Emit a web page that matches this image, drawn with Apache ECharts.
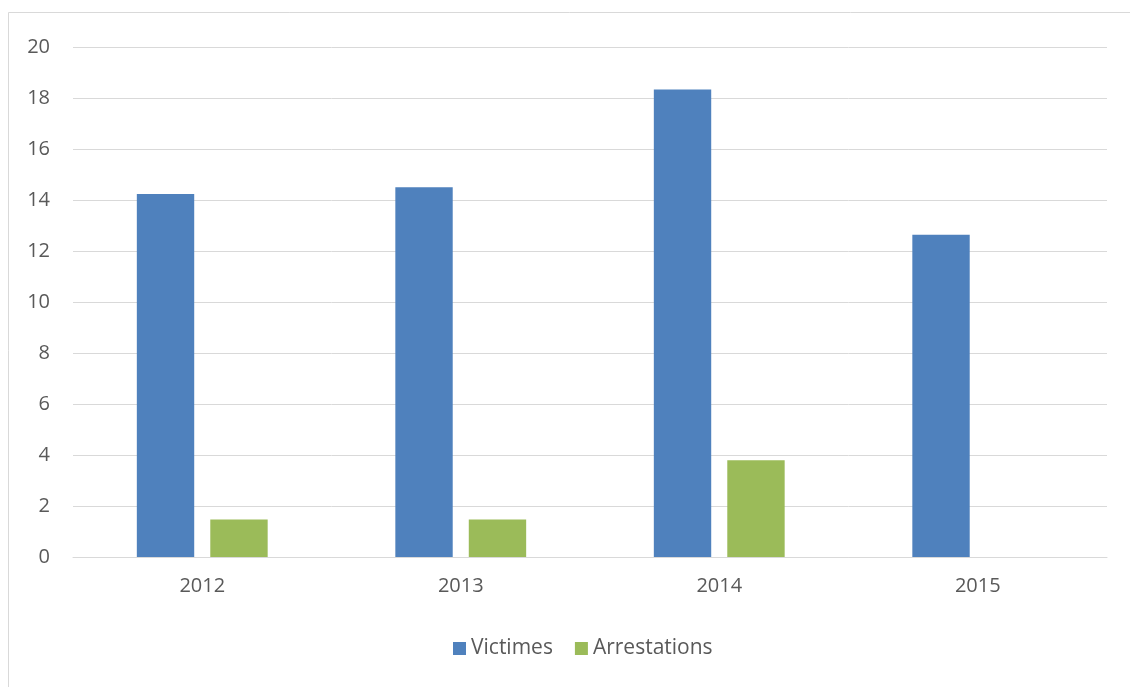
<!DOCTYPE html>
<html>
<head>
<meta charset="utf-8">
<script src="https://cdn.jsdelivr.net/npm/echarts@6/dist/echarts.min.js"></script>
<style>
  html, body { margin: 0; padding: 0; background: #fff; }
  #chart { width: 1130px; height: 687px; }
</style>
</head>
<body>
<div id="chart"></div>
<script>
const categories = ['2012', '2013', '2014', '2015'];
const victimes = [14.24, 14.5, 18.33, 12.64];
const arrestations = [1.47, 1.47, 3.79, 0];
const seriesNames = ['Victimes', 'Arrestations'];
const yTicks = { min: 0, max: 20, interval: 2 };

const FONT = '"Open Sans", "Liberation Sans", sans-serif';
const TEXT = '#595959';

const chart = echarts.init(document.getElementById('chart'), null, { renderer: 'canvas' });
chart.setOption({
  animation: false,
  backgroundColor: '#ffffff',
  graphic: [{
    type: 'rect',
    shape: { x: 8.5, y: 12.5, width: 1300, height: 900 },
    style: { fill: 'none', stroke: '#D9D9D9', lineWidth: 1 },
    silent: true
  }],
  grid: { left: 73, right: 23, top: 47, bottom: 130, containLabel: false },
  legend: {
    data: seriesNames,
    left: 448,
    top: 633,
    itemWidth: 13,
    itemHeight: 13,
    itemGap: 22,
    icon: 'rect',
    textStyle: { color: TEXT, fontSize: 21, fontFamily: FONT }
  },
  xAxis: {
    type: 'category',
    data: categories,
    axisLine: { show: true, lineStyle: { color: '#D9D9D9', width: 1 } },
    axisTick: { show: false },
    axisLabel: { color: TEXT, fontSize: 20, fontFamily: FONT, margin: 19 }
  },
  yAxis: {
    type: 'value',
    min: yTicks.min,
    max: yTicks.max,
    interval: yTicks.interval,
    axisLine: { show: false },
    axisTick: { show: false },
    splitLine: { lineStyle: { color: '#D9D9D9', width: 1 } },
    axisLabel: { color: TEXT, fontSize: 20, fontFamily: FONT, margin: 23 }
  },
  series: [
    {
      name: seriesNames[0],
      type: 'bar',
      data: victimes,
      barWidth: '22.2%',
      barGap: '28%',
      itemStyle: { color: '#4F81BD' }
    },
    {
      name: seriesNames[1],
      type: 'bar',
      data: arrestations,
      barWidth: '22.2%',
      itemStyle: { color: '#9BBB59' }
    }
  ]
});
</script>
</body>
</html>
